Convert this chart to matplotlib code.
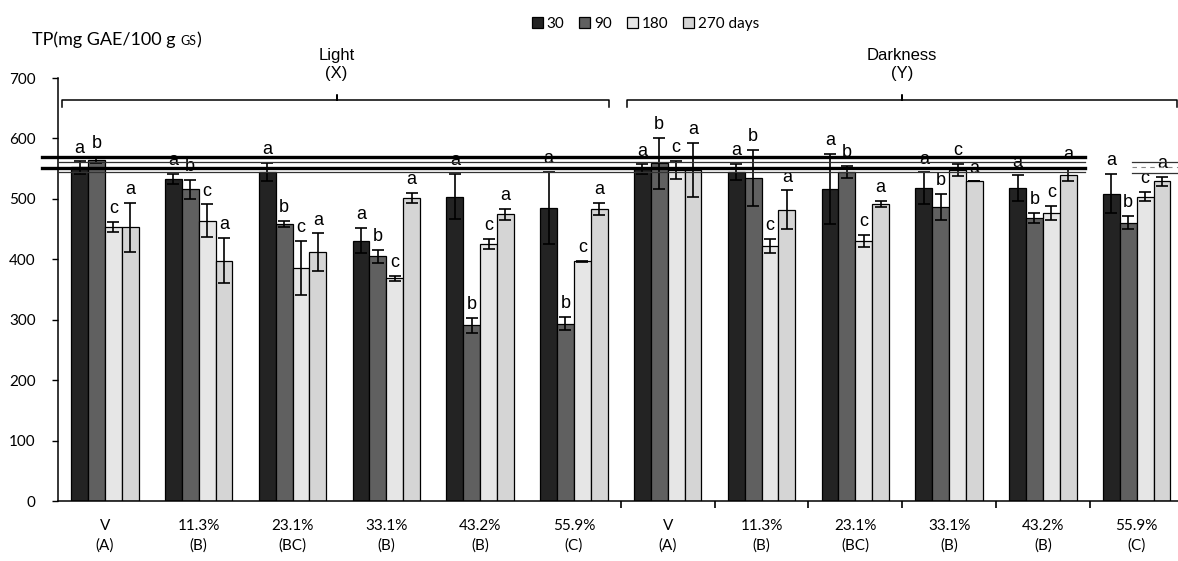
import numpy as np
import matplotlib
matplotlib.use("Agg")
from matplotlib import pyplot as plt

# groups: 6 light + 6 darkness
groups = ["V\n(A)", "11.3%\n(B)", "23.1%\n(BC)", "33.1%\n(B)", "43.2%\n(B)", "55.9%\n(C)",
          "V\n(A)", "11.3%\n(B)", "23.1%\n(BC)", "33.1%\n(B)", "43.2%\n(B)", "55.9%\n(C)"]
series = ["30", "90", "180", "270 days"]

tp_30 = [552, 533, 545, 431, 504, 485, 549, 545, 516, 518, 518, 509]
tp_90 = [564, 516, 459, 405, 291, 294, 559, 535, 545, 487, 469, 461]
tp_180 = [454, 464, 386, 369, 426, 397, 548, 422, 431, 548, 477, 504]
tp_270 = [453, 398, 412, 502, 475, 483, 548, 482, 492, 529, 540, 529]

err_30 = [10, 9, 15, 21, 37, 60, 8, 13, 58, 26, 21, 33]
err_90 = [5, 16, 5, 11, 12, 11, 42, 46, 10, 22, 8, 11]
err_180 = [8, 27, 45, 4, 8, 1, 15, 12, 10, 10, 12, 7]
err_270 = [40, 37, 31, 8, 9, 10, 45, 32, 5, 0, 11, 8]

letters = ["a", "b", "c", "a"]

# stray reference lines across the plot (thick, thin)
thick_lines = [568.6, 551.2]
thin_lines = [561.6, 543.9]
short_lines = [560.4, 542.2]

values = [tp_30, tp_90, tp_180, tp_270]
errors = [err_30, err_90, err_180, err_270]
colors = ["#232323", "#606060", "#e6e6e6", "#d5d5d5"]

plt.rcParams["font.family"] = ["Lato", "DejaVu Sans"]

fig = plt.figure(figsize=(11.78, 5.61), dpi=100)
ax = fig.add_axes([58 / 1178, 1 - 501.3 / 561, 1120 / 1178, (501.3 - 78) / 561])

x = np.arange(len(groups))
w = 0.18
for i in range(4):
    xs = x + (i - 1.5) * w
    ax.bar(xs, values[i], w, color=colors[i], edgecolor="black", linewidth=0.9,
           label=series[i], zorder=2)
    ax.errorbar(xs, values[i], yerr=errors[i], fmt="none", ecolor="black",
                elinewidth=1.2, capsize=4, capthick=1.2, zorder=3)
    for xx, v, e in zip(xs, values[i], errors[i]):
        ax.text(xx, v + e + 22, letters[i], ha="center", va="center",
                fontsize=13, family="Liberation Sans", zorder=4)

for yv in thick_lines:
    ax.plot([-0.67, 10.45], [yv, yv], color="black", lw=2.4, clip_on=False, zorder=5)
for yv in thin_lines:
    ax.plot([-0.5, 10.45], [yv, yv], color="#333333", lw=0.9, clip_on=False, zorder=5)
for yv in short_lines:
    ax.plot([10.95, 11.44], [yv, yv], color="#333333", lw=0.9, clip_on=False, zorder=5)
ax.plot([10.95, 11.44], [552, 552], color="#888888", lw=0.8, ls=(0, (4, 4)), clip_on=False, zorder=5)

ax.set_xlim(-0.5, 11.44)
ax.set_ylim(0, 700)
ax.set_yticks(range(0, 701, 100))
ax.set_xticks(x)
ax.set_xticklabels(groups, fontsize=11, linespacing=1.45)
ax.set_xticks(np.arange(5.5, 11, 1.0), minor=True)
ax.tick_params(axis="x", which="major", length=0, pad=13)
ax.tick_params(axis="x", which="minor", length=5, width=1.2, direction="out")
ax.tick_params(axis="y", length=4, width=1.0, direction="out", pad=12, labelsize=11)
ax.spines["top"].set_visible(False)
ax.spines["right"].set_visible(False)
ax.spines["left"].set_linewidth(1.1)
ax.spines["bottom"].set_linewidth(1.1)

# braces for Light / Darkness
def brace(x0, x1, xm, y):
    ax.plot([x0, x0, xm, xm, xm, x1, x1], [y - 12, y, y, y + 8, y, y, y - 12],
            color="black", lw=1.1, clip_on=False)

brace(-0.46, 5.37, 2.47, 664)
brace(5.565, 11.43, 8.5, 664)
ax.text(2.47, 737, "Light", ha="center", va="center", fontsize=12, family="Liberation Sans")
ax.text(2.47, 707, "(X)", ha="center", va="center", fontsize=12, family="Liberation Sans")
ax.text(8.5, 737, "Darkness", ha="center", va="center", fontsize=12, family="Liberation Sans")
ax.text(8.5, 707, "(Y)", ha="center", va="center", fontsize=12, family="Liberation Sans")

fig.legend(loc="center", bbox_to_anchor=(0.548, 0.958), ncol=4, frameon=False,
           handlelength=0.7, handleheight=0.7, handletextpad=0.25, columnspacing=1.0,
           fontsize=11)

# y-axis title with small-caps "GS"
fig.canvas.draw()
r = fig.canvas.get_renderer()
t1 = fig.text(32 / 1178, 1 - 40 / 561, "TP(mg GAE/100 g ", fontsize=13, va="center")
bb = t1.get_window_extent(r)
t2 = fig.text(bb.x1 / 1178, 1 - 41 / 561, "GS", fontsize=9, va="center")
bb2 = t2.get_window_extent(r)
fig.text(bb2.x1 / 1178, 1 - 40 / 561, ")", fontsize=13, va="center")

fig.savefig("out.png", dpi=100)
